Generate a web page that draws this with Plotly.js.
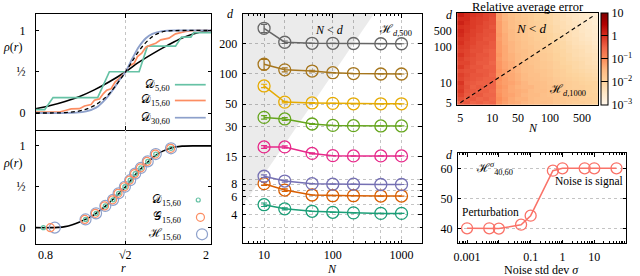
<!DOCTYPE html>
<html><head><meta charset="utf-8">
<script src="https://cdn.plot.ly/plotly-3.0.1.min.js"></script>
<style>html,body{margin:0;padding:0;background:#fff}#plot{width:640px;height:276px}</style>
</head><body><div id="plot"></div>
<script>
// ---------- Panel 1 (top-left): rho(r) curves ----------
const rTickVals = [0.8, Math.SQRT2, 2];
const rTickText = ['0.8', '√2', '2'];
const rhoTickVals = [0, 0.5, 1];
const rhoTickText = ['0', '½', '1'];

const rBlack = [0.80,0.90,1.00,1.10,1.20,1.30,1.414,1.50,1.60,1.70,1.80,1.90,2.00];
const vBlack = [0.05,0.09,0.14,0.20,0.28,0.375,0.50,0.61,0.72,0.82,0.91,0.97,1.00];

const rLim = [0.80,1.00,1.10,1.15,1.20,1.25,1.30,1.35,1.414,1.45,1.50,1.55,1.60,1.65,1.70,1.80,2.00];
const vLim = [0.00,0.005,0.025,0.05,0.09,0.15,0.23,0.34,0.50,0.60,0.74,0.85,0.93,0.975,0.995,1.00,1.00];

const rD5 = [0.80,0.861,0.918,1.223,1.303,1.506,1.563,1.755,1.796,1.860,1.880,2.00];
const vD5 = [0.04,0.04,0.187,0.187,0.50,0.50,0.81,0.81,0.92,0.92,0.975,0.975];

const rD15 = [0.80,0.963,1.008,1.042,1.099,1.133,1.178,1.201,1.235,1.262,1.285,1.314,1.343,1.371,1.414,1.438,1.472,1.495,1.524,1.552,1.586,1.62,1.654,1.71,1.755,1.823,1.891,2.00];
const vD15 = [0.012,0.012,0.033,0.049,0.053,0.085,0.102,0.154,0.171,0.236,0.276,0.293,0.378,0.419,0.50,0.569,0.602,0.683,0.724,0.797,0.825,0.846,0.886,0.907,0.959,0.988,1.00,1.00];

const rD30 = [0.80,1.076,1.144,1.212,1.28,1.325,1.371,1.414,1.461,1.506,1.552,1.597,1.665,1.778,2.00];
const vD30 = [0.00,0.004,0.02,0.065,0.175,0.276,0.398,0.50,0.663,0.805,0.906,0.959,0.992,1.00,1.00];

// ---------- Panel 2 (bottom-left) ----------
const rCurve2 = [0.80,0.90,0.95,1.00,1.05,1.10,1.15,1.20,1.25,1.30,1.35,1.414,1.45,1.50,1.55,1.60,1.65,1.70,1.75,1.80,1.90,2.00];
const vCurve2 = [0.00,0.00,0.003,0.012,0.035,0.068,0.11,0.16,0.225,0.30,0.385,0.50,0.58,0.685,0.775,0.855,0.92,0.96,0.985,0.997,1.00,1.00];
const ptVals = [0.00,0.10,0.175,0.265,0.34,0.42,0.50,0.58,0.66,0.73,0.81,0.90,0.97];
const rDpts = [0.852,1.14,1.212,1.275,1.328,1.366,1.409,1.445,1.479,1.518,1.565,1.62,1.724];
const rGpts = [0.900,1.135,1.207,1.270,1.325,1.362,1.405,1.440,1.475,1.515,1.560,1.617,1.722];
const rHpts = [0.930,1.14,1.212,1.275,1.328,1.366,1.409,1.445,1.479,1.518,1.565,1.62,1.724];

// ---------- Panel 3 (middle): estimated d vs N ----------
const N = [10,20,50,100,200,500,1000];
const NTickText = ['10','','','100','','','1000'];
const dTickVals = [4,6,8,15,30,50,100,200];
const dSeries = {
  d4:   [5.0,4.55,4.3,4.2,4.15,4.1,4.1],
  d6:   [8.1,7.0,6.25,6.15,6.15,6.1,6.1],
  d8:   [9.6,8.6,8.1,8.0,8.0,7.95,7.95],
  d15:  [18.8,18.8,16.2,15.4,15.3,15.3,15.3],
  d30:  [37,35.7,31.8,30.8,30.6,30.4,30.4],
  d50:  [76,52.5,51.5,51,50.5,50.5,50.5],
  d100: [125,110,107,103,101,100,100],
  d200: [285,207,202,202,201,200,200]
};
const dErrors = {
  d4:[0.2,0.1,0,0,0,0,0], d6:[0.3,0.2,0,0,0,0,0], d8:[0.3,0.2,0,0,0,0,0], d15:[0.6,0.5,0.2,0,0,0,0],
  d30:[1.5,1.2,0.3,0,0,0,0], d50:[3,1,0.5,0,0,0,0], d100:[15,5,2,0,0,0,0], d200:[27,6,0,0,0,0,0]
};
const dColors = {d4:'#1b9e77', d6:'#d95f02', d8:'#7570b3', d15:'#e7298a', d30:'#66a61e', d50:'#e6ab02', d100:'#a6761d', d200:'#666666'};
const regionN = [1, 1000, 1];
const regionD = [1, 1000, 1000];

// ---------- Panel 4 (heatmap) ----------
const hmN = ['5','6','7','8','9','10','20','30','40','50','60','70','80','90','100','150','200','300','400','500','700','1000'];
const hmD = ['5','6','7','8','9','10','20','30','40','50','60','70','80','90','100','200','300','400','500','600','700','800','900'];
const hmNTicks = ['5','10','50','100','500'];
const hmDTicks = ['5','10','100','500'];
const logErr = [
 [-0.45,-0.40,-0.50,-0.45,-0.55,-0.50,-1.05,-1.20,-1.30,-1.35,-1.45,-1.50,-1.55,-1.55,-1.60,-1.70,-1.75,-1.80,-1.85,-1.85,-1.90,-1.95],
 [-0.30,-0.45,-0.40,-0.50,-0.45,-0.55,-1.00,-1.15,-1.30,-1.40,-1.40,-1.50,-1.55,-1.60,-1.60,-1.70,-1.75,-1.80,-1.80,-1.90,-1.90,-1.95],
 [-0.20,-0.40,-0.45,-0.40,-0.50,-0.50,-1.05,-1.20,-1.25,-1.35,-1.45,-1.50,-1.50,-1.60,-1.65,-1.70,-1.80,-1.80,-1.85,-1.85,-1.95,-1.95],
 [-0.10,-0.35,-0.40,-0.45,-0.45,-0.55,-1.10,-1.20,-1.30,-1.35,-1.40,-1.50,-1.55,-1.55,-1.65,-1.75,-1.75,-1.85,-1.85,-1.90,-1.95,-2.00],
 [-0.15,-0.30,-0.45,-0.40,-0.50,-0.50,-1.05,-1.15,-1.30,-1.40,-1.45,-1.45,-1.55,-1.60,-1.65,-1.70,-1.80,-1.85,-1.90,-1.90,-1.95,-2.00],
 [-0.05,-0.35,-0.40,-0.45,-0.45,-0.50,-1.10,-1.20,-1.25,-1.35,-1.45,-1.55,-1.55,-1.60,-1.70,-1.75,-1.80,-1.85,-1.90,-1.95,-2.00,-2.00],
 [-0.20,-0.30,-0.35,-0.40,-0.45,-0.45,-1.05,-1.20,-1.30,-1.40,-1.50,-1.55,-1.60,-1.65,-1.70,-1.80,-1.85,-1.90,-1.95,-2.00,-2.05,-2.10],
 [-0.15,-0.25,-0.35,-0.35,-0.40,-0.50,-1.10,-1.25,-1.30,-1.40,-1.50,-1.60,-1.60,-1.70,-1.75,-1.85,-1.90,-1.95,-2.00,-2.05,-2.10,-2.15],
 [-0.25,-0.30,-0.30,-0.40,-0.40,-0.45,-1.05,-1.20,-1.35,-1.45,-1.55,-1.60,-1.65,-1.70,-1.75,-1.85,-1.90,-2.00,-2.05,-2.10,-2.15,-2.20],
 [-0.10,-0.25,-0.35,-0.35,-0.45,-0.45,-1.10,-1.25,-1.35,-1.45,-1.55,-1.60,-1.70,-1.75,-1.80,-1.90,-1.95,-2.00,-2.10,-2.15,-2.20,-2.25],
 [-0.20,-0.20,-0.30,-0.40,-0.40,-0.50,-1.10,-1.25,-1.35,-1.50,-1.55,-1.65,-1.70,-1.75,-1.80,-1.90,-2.00,-2.05,-2.10,-2.15,-2.25,-2.30],
 [-0.15,-0.25,-0.30,-0.35,-0.40,-0.45,-1.15,-1.30,-1.40,-1.50,-1.60,-1.65,-1.70,-1.80,-1.85,-1.95,-2.00,-2.10,-2.15,-2.20,-2.25,-2.35],
 [-0.05,-0.20,-0.25,-0.35,-0.35,-0.45,-1.10,-1.30,-1.40,-1.50,-1.60,-1.70,-1.75,-1.80,-1.85,-1.95,-2.05,-2.10,-2.20,-2.25,-2.30,-2.35],
 [-0.15,-0.20,-0.30,-0.30,-0.40,-0.45,-1.15,-1.30,-1.45,-1.55,-1.60,-1.70,-1.75,-1.85,-1.90,-2.00,-2.05,-2.15,-2.20,-2.25,-2.35,-2.40],
 [-0.10,-0.15,-0.25,-0.30,-0.35,-0.40,-1.15,-1.30,-1.45,-1.55,-1.65,-1.70,-1.80,-1.85,-1.90,-2.00,-2.10,-2.15,-2.25,-2.30,-2.35,-2.45],
 [ 0.00,-0.15,-0.20,-0.30,-0.30,-0.40,-1.15,-1.35,-1.45,-1.55,-1.65,-1.75,-1.80,-1.90,-1.95,-2.05,-2.10,-2.20,-2.30,-2.35,-2.40,-2.50],
 [-0.05,-0.10,-0.20,-0.25,-0.35,-0.35,-1.20,-1.35,-1.50,-1.60,-1.70,-1.75,-1.85,-1.90,-2.00,-2.10,-2.15,-2.25,-2.30,-2.40,-2.45,-2.55],
 [ 0.05,-0.10,-0.15,-0.25,-0.30,-0.35,-1.15,-1.35,-1.50,-1.60,-1.70,-1.80,-1.85,-1.95,-2.00,-2.10,-2.20,-2.25,-2.35,-2.40,-2.50,-2.55],
 [ 0.10,-0.05,-0.15,-0.20,-0.30,-0.30,-1.20,-1.40,-1.50,-1.65,-1.70,-1.80,-1.90,-1.95,-2.05,-2.15,-2.20,-2.30,-2.35,-2.45,-2.50,-2.60],
 [ 0.00,-0.05,-0.10,-0.20,-0.25,-0.35,-1.20,-1.40,-1.55,-1.65,-1.75,-1.80,-1.90,-2.00,-2.05,-2.15,-2.25,-2.30,-2.40,-2.45,-2.55,-2.60],
 [ 0.15, 0.00,-0.10,-0.15,-0.25,-0.30,-1.20,-1.40,-1.55,-1.65,-1.75,-1.85,-1.90,-2.00,-2.10,-2.20,-2.25,-2.35,-2.40,-2.50,-2.55,-2.65],
 [ 0.05, 0.05,-0.10,-0.15,-0.20,-0.30,-1.25,-1.45,-1.55,-1.70,-1.75,-1.85,-1.95,-2.00,-2.10,-2.20,-2.30,-2.35,-2.45,-2.50,-2.60,-2.65],
 [ 0.20, 0.05,-0.05,-0.10,-0.20,-0.25,-1.25,-1.45,-1.60,-1.70,-1.80,-1.85,-1.95,-2.05,-2.10,-2.20,-2.30,-2.40,-2.45,-2.55,-2.60,-2.70]
];
const cbTickVals = [-3,-2,-1,0,1];
const cbTickText = ['10<sup>−3</sup>','10<sup>−2</sup>','10<sup>−1</sup>','1','10'];
const diagN = ['5','1000'];
const diagD = ['5','900'];

// ---------- Panel 5 (bottom-right) ----------
const sigma = [0.001,0.005,0.01,0.05,0.1,0.5,1,5,10,50];
const dSigma = [40.0,40.0,39.9,41.2,44.2,59.2,60,60,60,60];
const sigmaTickVals = [0.001,0.01,0.1,1,10];
const sigmaTickText = ['0.001','','0.1','1','10'];
const dSigmaTicks = [40,50,60];

// ---------- layout helpers ----------
const W = 640, H = 276;
const px = x => x / W, py = y => 1 - y / H;
const FONT = 'Liberation Serif, DejaVu Serif, serif';
const GRID = '#c4c4c4';
const TF = {family: FONT, size: 12, color: '#000'};

function ax(extra) {
  return Object.assign({showline: true, linecolor: '#000', linewidth: 1, mirror: 'ticks',
    ticks: 'inside', ticklen: 3.5, tickcolor: '#000', tickwidth: 1, zeroline: false,
    showgrid: false, tickfont: TF, fixedrange: true, automargin: false}, extra);
}
function logMinor(lo, hi) { // minor tick positions (2..9 x 10^k)
  const out = [];
  for (let k = lo; k <= hi; k++) for (let m = 2; m <= 9; m++) out.push(m * Math.pow(10, k));
  return out;
}

const traces = [];
// Panel 1
traces.push({x: rBlack, y: vBlack, xaxis: 'x', yaxis: 'y', mode: 'lines', line: {color: '#000', width: 1.6, shape: 'spline'}});
traces.push({x: rD5, y: vD5, xaxis: 'x', yaxis: 'y', mode: 'lines', line: {color: '#66c2a5', width: 1.7}});
traces.push({x: rD15, y: vD15, xaxis: 'x', yaxis: 'y', mode: 'lines', line: {color: '#fc8d62', width: 1.7}});
traces.push({x: rD30, y: vD30, xaxis: 'x', yaxis: 'y', mode: 'lines', line: {color: '#8da0cb', width: 1.9, shape: 'spline'}});
traces.push({x: rLim, y: vLim, xaxis: 'x', yaxis: 'y', mode: 'lines', line: {color: '#000', width: 1.3, dash: '4px,3px', shape: 'spline'}});
// Panel 2
traces.push({x: rCurve2, y: vCurve2, xaxis: 'x2', yaxis: 'y2', mode: 'lines', line: {color: '#000', width: 1.6, shape: 'spline'}});
traces.push({x: rHpts, y: ptVals, xaxis: 'x2', yaxis: 'y2', mode: 'markers', marker: {symbol: 'circle-open', size: 11, color: '#8da0cb', line: {width: 1.2}}});
traces.push({x: rGpts, y: ptVals, xaxis: 'x2', yaxis: 'y2', mode: 'markers', marker: {symbol: 'circle-open', size: 8, color: '#fc8d62', line: {width: 1.2}}});
traces.push({x: rDpts, y: ptVals, xaxis: 'x2', yaxis: 'y2', mode: 'markers', marker: {symbol: 'circle-open', size: 4, color: '#66c2a5', line: {width: 1.3}}});
// Panel 3
traces.push({x: regionN, y: regionD, xaxis: 'x3', yaxis: 'y3', mode: 'lines', fill: 'toself', fillcolor: 'rgba(0,0,0,0.08)', line: {width: 0}, hoverinfo: 'skip'});
Object.keys(dSeries).forEach(k => {
  traces.push({x: N, y: dSeries[k], xaxis: 'x3', yaxis: 'y3', mode: 'lines+markers',
    line: {color: dColors[k], width: 1.5},
    marker: {symbol: 'circle-open', size: 12, color: dColors[k], line: {width: 1.3}},
    error_y: {type: 'data', array: dErrors[k], color: dColors[k], thickness: 1.2, width: 3}});
});
// Panel 4
traces.push({type: 'heatmap', x: hmN, y: hmD, z: logErr, xaxis: 'x4', yaxis: 'y4', zmin: -3, zmax: 1,
  colorscale: [[0,'#fff7ec'],[0.125,'#fee8c8'],[0.25,'#fdd49e'],[0.375,'#fdbb84'],[0.5,'#fc8d59'],[0.625,'#ef6548'],[0.75,'#d7301f'],[0.875,'#b30000'],[1,'#7f0000']],
  colorbar: {x: px(605), xanchor: 'left', y: py(58.85), yanchor: 'middle', len: 91.7, lenmode: 'pixels',
    thickness: 6.7, thicknessmode: 'pixels', outlinewidth: 1, outlinecolor: '#000', xpad: 0, ypad: 0,
    tickmode: 'array', tickvals: cbTickVals, ticktext: cbTickText, ticks: 'inside', ticklen: 6.7, tickcolor: '#000',
    tickfont: TF}});
traces.push({x: diagN, y: diagD, xaxis: 'x4', yaxis: 'y4', mode: 'lines', line: {color: '#000', width: 1.1, dash: '4px,3px'}});
// Panel 5
traces.push({x: sigma, y: dSigma, xaxis: 'x5', yaxis: 'y5', mode: 'lines+markers',
  line: {color: '#fa7268', width: 1.5}, marker: {symbol: 'circle-open', size: 11, color: '#fa7268', line: {width: 1.3}}});

const leftX = [px(36), px(212.7)];
const layout = {
  width: W, height: H, margin: {l: 0, r: 0, t: 0, b: 0}, showlegend: false,
  paper_bgcolor: '#fff', plot_bgcolor: 'rgba(0,0,0,0)', font: TF,
  xaxis: ax({domain: leftX, anchor: 'y', range: [0.8, 2], tickvals: rTickVals, showticklabels: false,
    showgrid: true, gridcolor: GRID, griddash: 'dot', gridwidth: 1}),
  yaxis: ax({domain: [py(129.5), py(14)], anchor: 'x', range: [-0.2, 1.2], tickvals: rhoTickVals, ticktext: rhoTickText, ticklabelstandoff: 7}),
  xaxis2: ax({domain: leftX, anchor: 'y2', range: [0.8, 2], tickvals: rTickVals, showticklabels: false, mirror: false,
    showgrid: true, gridcolor: GRID, griddash: 'dot', gridwidth: 1}),
  yaxis2: ax({domain: [py(244), py(129.5)], anchor: 'x2', range: [-0.2, 1.2], tickvals: rhoTickVals, ticktext: rhoTickText, ticklabelstandoff: 7}),
  xaxis3: ax({domain: [px(244.3), px(424.3)], anchor: 'y3', type: 'log', range: [Math.log10(4.9), 3.293],
    tickmode: 'array', tickvals: N, ticktext: NTickText, showgrid: true, gridcolor: GRID, griddash: 'dot', gridwidth: 1,
    minor: {tickmode: 'array', tickvals: logMinor(0, 3), ticks: 'inside', ticklen: 2, tickcolor: '#000', showgrid: false}}),
  yaxis3: ax({domain: [py(243.3), py(14)], anchor: 'x3', type: 'log', range: [0.315, 2.597],
    tickmode: 'array', tickvals: dTickVals, ticktext: dTickVals.map(String), showgrid: true, gridcolor: GRID, griddash: 'dot', gridwidth: 1,
    ticklabelstandoff: 2,
    minor: {tickmode: 'array', tickvals: [3,5,7,9], ticks: 'inside', ticklen: 2, tickcolor: '#000', showgrid: true, gridcolor: GRID, griddash: 'dot', gridwidth: 1}}),
  xaxis4: ax({domain: [px(460), px(601.7)], anchor: 'y4', type: 'category', range: [-0.5, hmN.length - 0.5],
    tickmode: 'array', tickvals: hmNTicks, ticktext: hmNTicks, ticks: '', mirror: true, ticklabelstandoff: 2}),
  yaxis4: ax({domain: [py(104.7), py(13)], anchor: 'x4', type: 'category', range: [-0.5, hmD.length - 0.5],
    tickmode: 'array', tickvals: hmDTicks, ticktext: hmDTicks, ticks: '', mirror: true, ticklabelstandoff: 2}),
  xaxis5: ax({domain: [px(460.7), px(630)], anchor: 'y5', type: 'log', range: [-3.29, 2.0],
    tickmode: 'array', tickvals: sigmaTickVals, ticktext: sigmaTickText, ticklabelstandoff: 2,
    minor: {tickmode: 'array', tickvals: logMinor(-4, 1), ticks: 'inside', ticklen: 2, tickcolor: '#000', showgrid: false}}),
  yaxis5: ax({domain: [py(243.3), py(153.3)], anchor: 'x5', range: [35, 65], tickvals: dSigmaTicks,
    showgrid: true, gridcolor: GRID, griddash: 'dot', gridwidth: 1, ticklabelstandoff: 2}),
  annotations: [],
  shapes: []
};

function note(text, x, y, opts) {
  layout.annotations.push(Object.assign({text: text, x: px(x), y: py(y), xref: 'paper', yref: 'paper',
    showarrow: false, font: TF, xanchor: 'center', yanchor: 'middle'}, opts || {}));
}
// left labels
note('<i>ρ</i>(<i>r</i>)', 13, 47);
note('<i>ρ</i>(<i>r</i>)', 13, 163);
layout.annotations.push({text: rTickText[0], x: rTickVals[0], xref: 'x2', y: py(255), yref: 'paper', xanchor: 'left', yanchor: 'middle', showarrow: false, font: TF});
layout.annotations.push({text: rTickText[1], x: rTickVals[1], xref: 'x2', y: py(255), yref: 'paper', xanchor: 'center', yanchor: 'middle', showarrow: false, font: TF});
layout.annotations.push({text: rTickText[2], x: rTickVals[2], xref: 'x2', y: py(255), yref: 'paper', xanchor: 'right', yanchor: 'middle', showarrow: false, font: TF});
note('<i>r</i>', 124, 268);
// legend panel 1
const leg1 = [['𝒟<sub>5,60</sub>', '#66c2a5', 84.7], ['𝒟<sub>15,60</sub>', '#fc8d62', 100.5], ['𝒟<sub>30,60</sub>', '#8da0cb', 117.7]];
leg1.forEach(([t, c, y]) => {
  note(t, 173, y, {xanchor: 'right'});
  layout.shapes.push({type: 'line', xref: 'paper', yref: 'paper', x0: px(176), x1: px(207), y0: py(y), y1: py(y), line: {color: c, width: 1.7}});
});
// legend panel 2
const leg2 = [['𝒟<sub>15,60</sub>', '#66c2a5', 200, 199.5, 2], ['𝒢<sub>15,60</sub>', '#fc8d62', 217.3, 201.7, 4], ['ℋ<sub>15,60</sub>', '#8da0cb', 234.3, 203.3, 5.5]];
leg2.forEach(([t, c, y, mx, r]) => {
  note(t, 184, y, {xanchor: 'right'});
  layout.shapes.push({type: 'circle', xref: 'paper', yref: 'paper', xsizemode: 'pixel', ysizemode: 'pixel',
    xanchor: px(mx), yanchor: py(y), x0: -r, x1: r, y0: -r, y1: r, line: {color: c, width: 1.2}});
});
// middle
note('<i>d</i>', 231.7, 14);
note('<i>N</i> &lt; <i>d</i>', 332, 29.5);
note('ℋ<sub><i>d</i>,500</sub>', 397.5, 30);
note('<i>N</i>', 334, 269);
// heatmap
note('Relative average error', 531, 7, {font: Object.assign({}, TF, {size: 12.5})});
note('<i>d</i>', 452.7, 15);
note('<i>N</i> &lt; <i>d</i>', 535, 28.7, {font: Object.assign({}, TF, {size: 13})});
note('ℋ<sub><i>d</i>,1000</sub>', 571, 89.7);
note('<i>N</i>', 536.7, 128.3);
// bottom right
note('<i>d</i>', 452.7, 155);
note('ℋ<sup><i>σ</i></sup><sub>40,60</sub>', 477, 168.3, {xanchor: 'left'});
note('Noise is signal', 592.5, 181.7, {font: Object.assign({}, TF, {size: 11.5})});
note('Perturbation', 493.7, 212.3, {font: Object.assign({}, TF, {size: 11.5})});
note('Noise std dev <i>σ</i>', 545, 269.5);

Plotly.newPlot('plot', traces, layout, {staticPlot: true, displayModeBar: false});
</script></body></html>
